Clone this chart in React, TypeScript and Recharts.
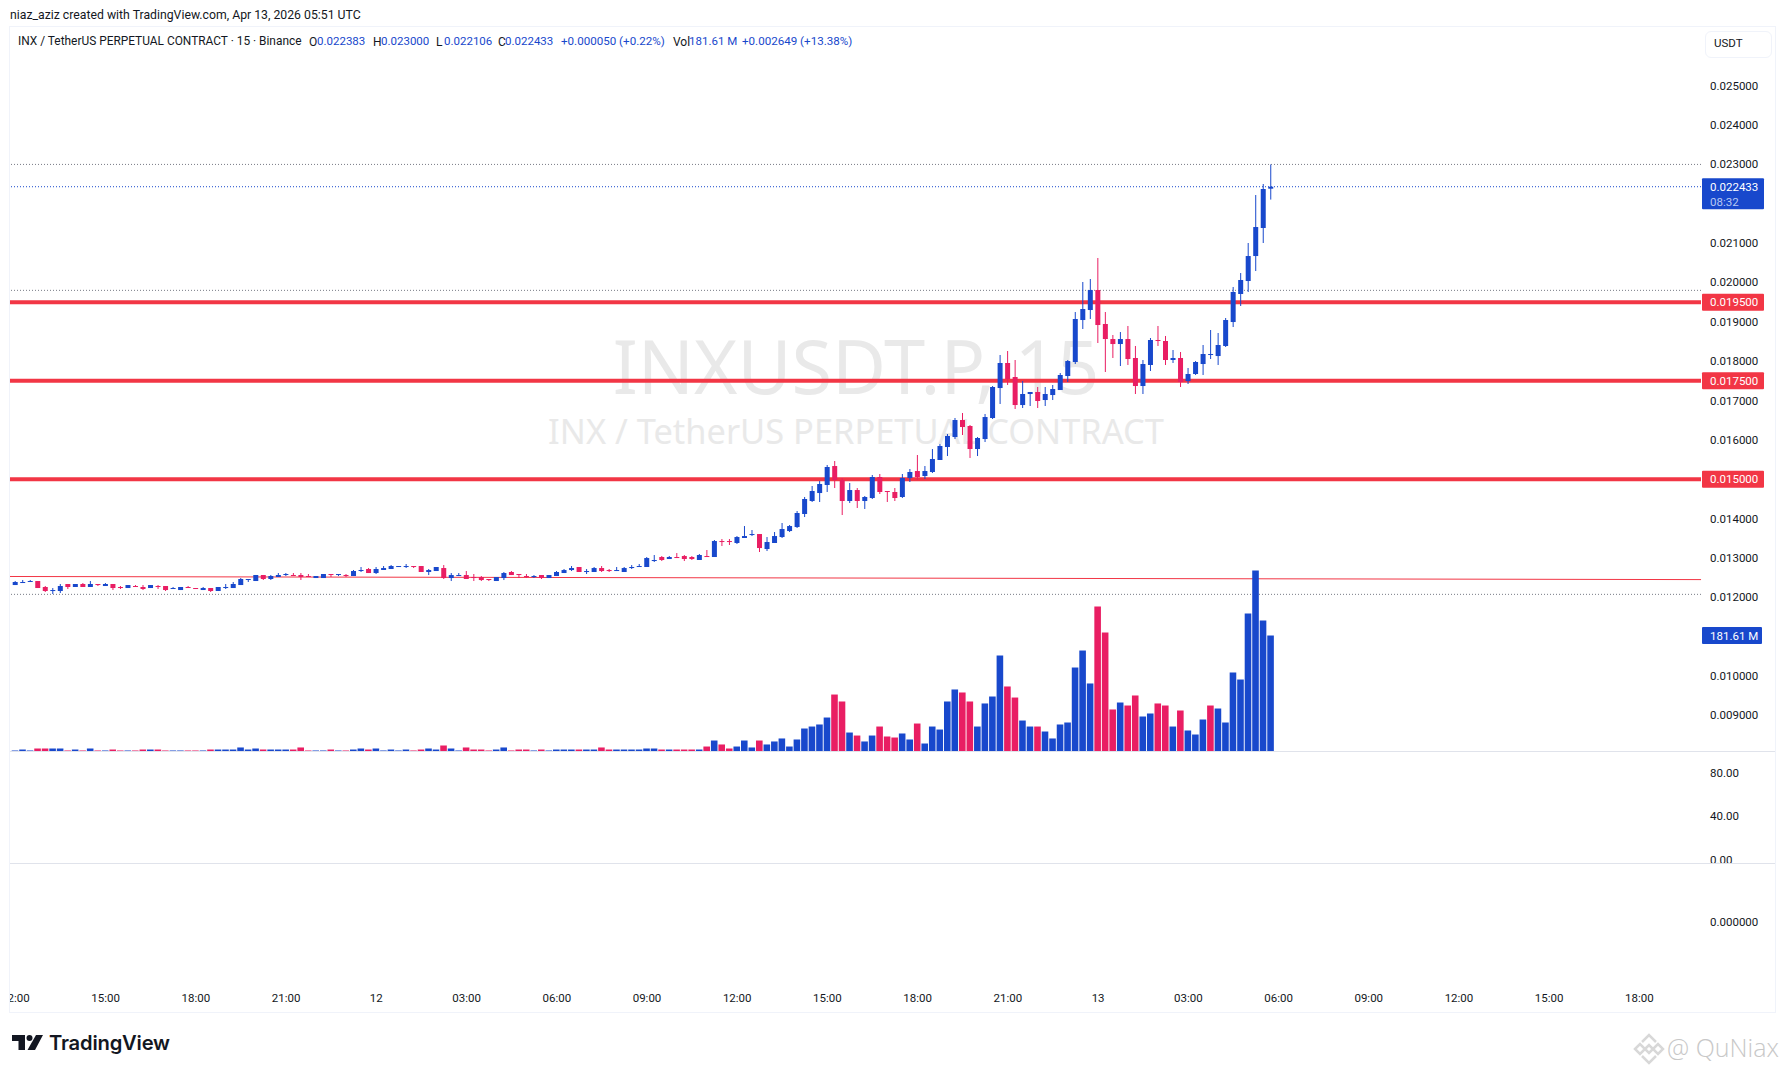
import { Bar, Cell, ComposedChart, ReferenceLine, XAxis, YAxis } from "recharts"

const UP = "#1848cc"
const DOWN = "#e91e63"
const LEVEL = "#f23645"
const TEXT = "#131722"
const FONT = "Roboto, sans-serif"

// 15 minute candles
const opens = [
  0.012312, 0.012363, 0.012389, 0.012414, 0.012262, 0.01216, 0.01216, 0.012338, 0.012262, 0.012338, 0.012262, 0.012338,
  0.012287, 0.012338, 0.012262, 0.012236, 0.012287, 0.012262, 0.012236, 0.012287, 0.012287, 0.012211, 0.012185, 0.012262,
  0.012236, 0.012185, 0.012236, 0.01216, 0.012236, 0.012236, 0.012312, 0.01244, 0.012414, 0.012567, 0.012465, 0.012516,
  0.012567, 0.012567, 0.012567, 0.012541, 0.01249, 0.01249, 0.012592, 0.012567, 0.012567, 0.012541, 0.012668, 0.012719,
  0.012617, 0.012694, 0.012719, 0.01277, 0.01277, 0.012795, 0.012795, 0.012643, 0.012668, 0.012744, 0.01249, 0.012541,
  0.012566, 0.012516, 0.012516, 0.012465, 0.012414, 0.01249, 0.012643, 0.012592, 0.012541, 0.012516, 0.012566, 0.01249,
  0.012541, 0.012617, 0.012693, 0.01277, 0.012643, 0.012643, 0.012744, 0.012693, 0.012668, 0.012643, 0.012744, 0.01277,
  0.01277, 0.012922, 0.013024, 0.012973, 0.013024, 0.013049, 0.013024, 0.012948, 0.013049, 0.013024, 0.01343, 0.01343,
  0.01338, 0.013507, 0.013583, 0.013608, 0.013227, 0.01338, 0.013532, 0.013684, 0.013786, 0.014117, 0.014447, 0.01465,
  0.014854, 0.015336, 0.014981, 0.014447, 0.014726, 0.014447, 0.014523, 0.015057, 0.014701, 0.014676, 0.014549, 0.015031,
  0.015209, 0.015082, 0.015184, 0.015489, 0.015819, 0.016073, 0.016505, 0.016353, 0.015768, 0.016022, 0.016556, 0.017318,
  0.017954, 0.017598, 0.016886, 0.017166, 0.017217, 0.017013, 0.01714, 0.017267, 0.017623, 0.017979, 0.019046, 0.0193,
  0.019808, 0.018945, 0.018563, 0.018436, 0.018563, 0.018081, 0.017369, 0.017903, 0.018538, 0.018513, 0.01803, 0.018081,
  0.017496, 0.017674, 0.017928, 0.018157, 0.018131, 0.018386, 0.018995, 0.019707, 0.020037, 0.020672, 0.021384, 0.022383,
]
const highs = [
  0.012414, 0.01244, 0.01244, 0.012414, 0.012287, 0.012236, 0.012338, 0.012338, 0.012338, 0.012363, 0.012414, 0.012338,
  0.012363, 0.012338, 0.012287, 0.012312, 0.012312, 0.012312, 0.012312, 0.012312, 0.012287, 0.012262, 0.012262, 0.012287,
  0.012236, 0.012262, 0.012236, 0.012262, 0.012338, 0.012389, 0.01249, 0.012465, 0.012567, 0.012567, 0.012567, 0.012617,
  0.012617, 0.012617, 0.012617, 0.012592, 0.012541, 0.012592, 0.012592, 0.012592, 0.012592, 0.012694, 0.01277, 0.012744,
  0.01277, 0.012795, 0.012821, 0.012795, 0.012846, 0.012795, 0.012795, 0.012719, 0.01277, 0.01282, 0.012617, 0.012617,
  0.012668, 0.012592, 0.012541, 0.012465, 0.012516, 0.012643, 0.012668, 0.012592, 0.012592, 0.012566, 0.012566, 0.012566,
  0.012668, 0.012719, 0.012795, 0.01277, 0.012719, 0.01277, 0.012795, 0.012719, 0.01277, 0.01277, 0.01282, 0.012846,
  0.013024, 0.013075, 0.013049, 0.013049, 0.013125, 0.013075, 0.013049, 0.0131, 0.013202, 0.013456, 0.013481, 0.013481,
  0.013557, 0.013811, 0.01371, 0.013608, 0.013532, 0.013659, 0.013888, 0.013837, 0.014193, 0.014549, 0.014828, 0.014955,
  0.015362, 0.015463, 0.015031, 0.014904, 0.014777, 0.014574, 0.015108, 0.015133, 0.014701, 0.014777, 0.015133, 0.01526,
  0.015616, 0.015336, 0.015768, 0.015895, 0.016149, 0.016556, 0.016683, 0.016378, 0.016073, 0.016658, 0.017369, 0.018157,
  0.018258, 0.01803, 0.017496, 0.017217, 0.017344, 0.017344, 0.017395, 0.017699, 0.01803, 0.019249, 0.020012, 0.020088,
  0.020622, 0.019249, 0.018665, 0.018741, 0.018894, 0.018386, 0.01803, 0.018589, 0.018894, 0.01864, 0.018284, 0.018233,
  0.017827, 0.018004, 0.018411, 0.018792, 0.018716, 0.019097, 0.019885, 0.02024, 0.021003, 0.022222, 0.022502, 0.023,
]
const lows = [
  0.012312, 0.012363, 0.012389, 0.012236, 0.012135, 0.012084, 0.012109, 0.012211, 0.012262, 0.012262, 0.012262, 0.012287,
  0.012287, 0.012185, 0.012211, 0.012236, 0.012262, 0.012185, 0.012236, 0.012211, 0.01216, 0.012211, 0.012185, 0.012236,
  0.012211, 0.012185, 0.012135, 0.01216, 0.012211, 0.012236, 0.012312, 0.012389, 0.012414, 0.01244, 0.01244, 0.012516,
  0.012541, 0.012541, 0.01244, 0.012516, 0.01249, 0.01249, 0.012516, 0.012541, 0.012516, 0.012541, 0.012643, 0.012617,
  0.012592, 0.012694, 0.012719, 0.01277, 0.012744, 0.012744, 0.012643, 0.012566, 0.012668, 0.012465, 0.012414, 0.012541,
  0.012465, 0.012414, 0.012414, 0.012414, 0.012414, 0.012439, 0.012566, 0.01249, 0.01249, 0.01249, 0.012465, 0.01249,
  0.012541, 0.012617, 0.012668, 0.012643, 0.012592, 0.012643, 0.012643, 0.012643, 0.012668, 0.012643, 0.012719, 0.01277,
  0.01277, 0.012897, 0.012922, 0.012973, 0.012998, 0.012922, 0.012948, 0.012948, 0.013024, 0.013024, 0.013303, 0.013329,
  0.013354, 0.013507, 0.013557, 0.013151, 0.013176, 0.01338, 0.013507, 0.013659, 0.013761, 0.01404, 0.014422, 0.014422,
  0.014676, 0.014777, 0.014091, 0.014396, 0.014269, 0.014244, 0.014498, 0.014625, 0.014422, 0.014447, 0.014523, 0.01493,
  0.014981, 0.015006, 0.015158, 0.015489, 0.01559, 0.016022, 0.016124, 0.01554, 0.01559, 0.015946, 0.016531, 0.016912,
  0.017395, 0.016785, 0.01681, 0.016861, 0.01681, 0.016861, 0.017013, 0.017267, 0.017471, 0.017928, 0.018818, 0.019072,
  0.018462, 0.017725, 0.018081, 0.017877, 0.017903, 0.017166, 0.017166, 0.01775, 0.018386, 0.017903, 0.017954, 0.017344,
  0.01742, 0.017649, 0.017649, 0.018055, 0.017903, 0.01836, 0.018868, 0.019402, 0.019758, 0.020291, 0.021003, 0.022106,
]
const closes = [
  0.012389, 0.012389, 0.012414, 0.012236, 0.01216, 0.012185, 0.012287, 0.012262, 0.012338, 0.012262, 0.012338, 0.012312,
  0.012338, 0.012236, 0.012236, 0.012312, 0.012262, 0.012211, 0.012312, 0.012262, 0.012185, 0.012236, 0.012262, 0.012236,
  0.012211, 0.012236, 0.01216, 0.012262, 0.012262, 0.012338, 0.012465, 0.012465, 0.012567, 0.012465, 0.012541, 0.012567,
  0.012592, 0.012541, 0.012516, 0.012516, 0.012541, 0.012592, 0.012567, 0.012592, 0.012541, 0.012668, 0.012694, 0.012617,
  0.012719, 0.012744, 0.012795, 0.012795, 0.012795, 0.01277, 0.012643, 0.012693, 0.01277, 0.01249, 0.012566, 0.012566,
  0.012465, 0.01249, 0.012439, 0.012439, 0.012516, 0.012617, 0.012566, 0.012566, 0.012516, 0.012541, 0.01249, 0.012566,
  0.012643, 0.012693, 0.012744, 0.012643, 0.012668, 0.012744, 0.012668, 0.012668, 0.012693, 0.012744, 0.01277, 0.012795,
  0.012998, 0.012948, 0.012948, 0.013024, 0.012998, 0.012973, 0.012973, 0.013075, 0.013024, 0.01343, 0.013405, 0.013405,
  0.013532, 0.013557, 0.013608, 0.013252, 0.013405, 0.013557, 0.013735, 0.013811, 0.014142, 0.014498, 0.014701, 0.014879,
  0.015311, 0.014981, 0.014447, 0.014726, 0.014447, 0.014549, 0.015057, 0.014676, 0.014676, 0.014523, 0.015031, 0.015184,
  0.015057, 0.015209, 0.015514, 0.015845, 0.016099, 0.016505, 0.016327, 0.015768, 0.016048, 0.016581, 0.017344, 0.017954,
  0.017547, 0.016886, 0.017166, 0.017217, 0.016988, 0.017166, 0.017293, 0.017649, 0.018004, 0.019072, 0.019326, 0.019808,
  0.018919, 0.018563, 0.018436, 0.018563, 0.018055, 0.017369, 0.017928, 0.018538, 0.018513, 0.01803, 0.018081, 0.017471,
  0.017674, 0.017979, 0.018182, 0.018182, 0.018411, 0.019046, 0.019758, 0.020063, 0.020672, 0.021409, 0.022375, 0.022433,
]
// millions
const volumes = [
  1.6, 3.1, 1.6, 4.7, 4.7, 4.7, 4.7, 1.6, 3.1, 1.6, 4.7, 1.6, 1.6, 3.1, 1.6, 1.6, 1.6, 3.1, 3.1, 3.1,
  1.6, 1.6, 1.6, 1.6, 1.6, 1.6, 3.1, 3.1, 3.1, 3.1, 6.3, 3.1, 4.7, 3.1, 3.1, 3.1, 3.1, 3.1, 6.3, 1.6,
  1.6, 1.6, 3.1, 1.6, 1.6, 3.1, 4.7, 3.1, 4.7, 1.6, 3.1, 1.6, 3.1, 1.6, 3.1, 4.7, 3.1, 9.4, 4.7, 1.6,
  6.3, 3.1, 3.1, 1.6, 3.1, 6.3, 1.6, 3.1, 3.1, 1.6, 3.1, 1.6, 3.1, 3.1, 3.1, 3.1, 3.1, 3.1, 6.3, 3.1,
  3.1, 3.1, 3.1, 3.1, 4.7, 4.7, 3.1, 3.1, 3.1, 3.1, 3.1, 3.1, 7.8, 17.2, 11, 4.7, 7.8, 17.2, 6.3, 17.2,
  11, 15.7, 20.4, 7.8, 18.8, 36, 39.1, 42.3, 53.2, 89.2, 78.3, 29.7, 25, 15.7, 25, 39.1, 23.5, 21.9, 28.2, 18.8,
  43.8, 12.5, 39.1, 34.4, 78.3, 97.1, 92.4, 78.3, 39.1, 75.2, 86.1, 150.3, 101.8, 84.5, 48.5, 39.1, 39.1, 31.3, 20.4, 42.3,
  45.4, 131.5, 158.1, 106.5, 227, 186.3, 65.8, 76.7, 72, 87.7, 54.8, 59.5, 75.2, 72, 39.1, 64.2, 32.9, 26.6, 50.1, 72,
  67.3, 45.4, 123.7, 112.7, 216.1, 283.4, 205.1, 181.61,
]
// the one doji whose volume bar is pink while the candle is blue
const pinkVolumeSlots = [159]

const timeLabels = ["12:00", "15:00", "18:00", "21:00", "12", "03:00", "06:00", "09:00", "12:00", "15:00", "18:00", "21:00", "13", "03:00", "06:00", "09:00", "12:00", "15:00", "18:00"]
const priceTicks = [0.025, 0.024, 0.023, 0.021, 0.02, 0.019, 0.018, 0.017, 0.016, 0.014, 0.013, 0.012, 0.01, 0.009]
const levels = [0.0195, 0.0175, 0.015]
const dottedLevels = [0.023, 0.0198, 0.012075]
const lastPrice = 0.022433
const lastVolume = 181.61
const oscTicks = [80, 40, 0]

const slotCount = 224
const rows = Array.from({ length: slotCount }, (_, slot) =>
  slot < opens.length
    ? { slot, open: opens[slot], high: highs[slot], low: lows[slot], close: closes[slot], volume: volumes[slot], flat: 0 }
    : { slot, flat: 0 },
)
const timeTicks = timeLabels.map((_, i) => i * 12)

const CHART_W = 1765
const AXIS_W = 74
const xPadding = { left: 1.7, right: 5.2 }

function Candle(props: any) {
  const { x, y, width, height, payload } = props
  if (payload.open === undefined) return null
  const top = Math.min(y, y + height)
  const perUnit = Math.abs(height) / (payload.high - payload.low)
  const at = (p: number) => top + (payload.high - p) * perUnit
  const color = payload.close >= payload.open ? UP : DOWN
  const bodyTop = at(Math.max(payload.open, payload.close))
  const bodyBottom = at(Math.min(payload.open, payload.close))
  const mid = x + width / 2
  return (
    <g>
      <line x1={mid} x2={mid} y1={top} y2={top + Math.abs(height)} stroke={color} strokeWidth={1} />
      <rect x={x} y={bodyTop} width={width} height={Math.max(bodyBottom - bodyTop, 1)} fill={color} />
    </g>
  )
}

function Tag({ x, y, w, fill, label, sub }: any) {
  return (
    <g>
      <rect x={x + 1} y={y - 8.5} width={w} height={sub ? 31 : 17} rx={1} fill={fill} />
      <text x={x + 9} y={y + 4} fontSize={11.5} fontFamily={FONT} fill="#fff">{label}</text>
      {sub && <text x={x + 9} y={y + 19} fontSize={11.5} fontFamily={FONT} fill="#b9c8f2">{sub}</text>}
    </g>
  )
}

function PriceTick({ x, y, payload }: any) {
  const value = payload.value
  if (levels.includes(value)) return <Tag x={x} y={y} w={62} fill={LEVEL} label={value.toFixed(6)} />
  if (value === lastPrice) return <Tag x={x} y={y} w={62} fill={UP} label={value.toFixed(6)} sub="08:32" />
  return <text x={x + 9} y={y + 4} fontSize={11.5} fontFamily={FONT} fill={TEXT}>{value.toFixed(6)}</text>
}

function VolumeTick({ x, y, payload }: any) {
  return <Tag x={x} y={y} w={60} fill={UP} label={`${payload.value} M`} />
}

function PlainTick({ x, y, payload, digits }: any) {
  return <text x={x + 9} y={y + 4} fontSize={11.5} fontFamily={FONT} fill={TEXT}>{Number(payload.value).toFixed(digits)}</text>
}

// the drawn trend line runs past the first and last slots, up to both pane edges
function TrendLine({ x1, y1, x2, y2 }: any) {
  return <line x1={x1 - 6} y1={y1} x2={x2 + 9} y2={y2} stroke={LEVEL} strokeWidth={1} />
}

function Txt({ x, y, size = 12, color = TEXT, children, style }: any) {
  return (
    <span style={{ position: "absolute", left: x, top: y, fontSize: size, color, fontFamily: FONT, lineHeight: 1, whiteSpace: "nowrap", ...style }}>
      {children}
    </span>
  )
}

export default function App() {
  return (
    <div style={{ position: "absolute", left: 0, top: 0, width: 1785, height: 1073, background: "#fff", overflow: "hidden" }}>
      <Txt x={10} y={9} size={12.25}>niaz_aziz created with TradingView.com, Apr 13, 2026 05:51 UTC</Txt>

      {/* frame */}
      <div style={{ position: "absolute", left: 9, top: 26, width: 1765, height: 985, border: "1px solid #f0f3fa" }} />

      {/* watermark sits under the candles */}
      <Txt x={856} y={329} size={74} color="#e9e9e9" style={{ transform: "translateX(-50%)", fontFamily: "'Noto Sans', sans-serif" }}>INXUSDT.P, 15</Txt>
      <Txt x={856} y={414} size={34.4} color="#e9e9e9" style={{ transform: "translateX(-50%)", fontFamily: "'Noto Sans', sans-serif" }}>INX / TetherUS PERPETUAL CONTRACT</Txt>

      {/* price pane */}
      <div style={{ position: "absolute", left: 10, top: 26 }}>
        <ComposedChart width={CHART_W} height={725.5} data={rows} margin={{ top: 0, right: 0, bottom: 0, left: 0 }}>
          <XAxis dataKey="slot" hide padding={xPadding} />
          <YAxis
            orientation="right"
            width={AXIS_W}
            domain={[0.008082, 0.026517]}
            allowDataOverflow
            ticks={[...priceTicks, ...levels, lastPrice]}
            interval={0}
            axisLine={false}
            tickLine={false}
            tickSize={0}
            tickMargin={0}
            tick={<PriceTick />}
          />
          {dottedLevels.map((p) => (
            <ReferenceLine key={p} y={p} stroke="#787b86" strokeWidth={1} strokeDasharray="1 2" zIndex={100} />
          ))}
          <ReferenceLine y={lastPrice} stroke={UP} strokeWidth={1} strokeDasharray="1 2" zIndex={100} />
          {levels.map((p) => (
            <ReferenceLine key={p} y={p} stroke={LEVEL} strokeWidth={4} zIndex={100} />
          ))}
          <ReferenceLine
            segment={[{ x: 0, y: 0.012529 }, { x: slotCount - 1, y: 0.01245 }]}
            shape={<TrendLine />}
            zIndex={100}
          />
          <Bar
            dataKey={(d: any) => (d.open === undefined ? null : [d.low, d.high])}
            barSize={5}
            shape={<Candle />}
            isAnimationActive={false}
            zIndex={300}
          />
        </ComposedChart>
      </div>

      {/* volume overlay */}
      <div style={{ position: "absolute", left: 10, top: 26 }}>
        <ComposedChart width={CHART_W} height={725.5} data={rows} margin={{ top: 0, right: 0, bottom: 0, left: 0 }}>
          <XAxis dataKey="slot" hide padding={xPadding} />
          <YAxis
            orientation="right"
            width={AXIS_W}
            domain={[0, 1135.9]}
            ticks={[lastVolume]}
            interval={0}
            axisLine={false}
            tickLine={false}
            tickSize={0}
            tickMargin={0}
            tick={<VolumeTick />}
          />
          <Bar dataKey="volume" barSize={6.6} isAnimationActive={false}>
            {rows.map((r: any) => (
              <Cell key={r.slot} fill={r.close >= r.open && !pinkVolumeSlots.includes(r.slot) ? UP : DOWN} />
            ))}
          </Bar>
        </ComposedChart>
      </div>

      <div style={{ position: "absolute", left: 10, top: 751, width: 1765, height: 1, background: "#e0e3eb" }} />

      {/* empty oscillator pane */}
      <div style={{ position: "absolute", left: 10, top: 752 }}>
        <ComposedChart width={CHART_W} height={111} data={rows} margin={{ top: 0, right: 0, bottom: 0, left: 0 }}>
          <XAxis dataKey="slot" hide padding={xPadding} />
          <YAxis
            orientation="right"
            width={AXIS_W}
            domain={[-3.2, 99.3]}
            ticks={oscTicks}
            interval={0}
            axisLine={false}
            tickLine={false}
            tickSize={0}
            tickMargin={0}
            tick={<PlainTick digits={2} />}
          />
          <Bar dataKey="flat" isAnimationActive={false} />
        </ComposedChart>
      </div>

      <div style={{ position: "absolute", left: 10, top: 863, width: 1765, height: 1, background: "#e0e3eb" }} />

      {/* last pane with the time axis */}
      <div style={{ position: "absolute", left: 10, top: 864 }}>
        <ComposedChart width={CHART_W} height={147} data={rows} margin={{ top: 0, right: 0, bottom: 0, left: 0 }}>
          <XAxis
            dataKey="slot"
            ticks={timeTicks}
            interval={0}
            height={32}
            padding={xPadding}
            axisLine={false}
            tickLine={false}
            tickSize={0}
            tickMargin={15}
            tick={{ fontSize: 11.5, fontFamily: FONT, fill: TEXT }}
            tickFormatter={(v: number) => timeLabels[v / 12]}
          />
          <YAxis
            orientation="right"
            width={AXIS_W}
            domain={[-1, 1]}
            ticks={[0]}
            interval={0}
            axisLine={false}
            tickLine={false}
            tickSize={0}
            tickMargin={0}
            tick={<PlainTick digits={6} />}
          />
          <Bar dataKey="flat" isAnimationActive={false} />
        </ComposedChart>
      </div>

      {/* legend line */}
      <Txt x={18} y={36} size={11.9}>INX / TetherUS PERPETUAL CONTRACT · 15 · Binance</Txt>
      <Txt x={309} y={36}>O</Txt>
      <Txt x={317} y={36} size={11.5} color={UP}>0.022383</Txt>
      <Txt x={373} y={36}>H</Txt>
      <Txt x={381} y={36} size={11.5} color={UP}>0.023000</Txt>
      <Txt x={436} y={36}>L</Txt>
      <Txt x={444} y={36} size={11.5} color={UP}>0.022106</Txt>
      <Txt x={498} y={36}>C</Txt>
      <Txt x={505} y={36} size={11.5} color={UP}>0.022433</Txt>
      <Txt x={561} y={36} size={11.6} color={UP}>+0.000050 (+0.22%)</Txt>
      <Txt x={673} y={36}>Vol</Txt>
      <Txt x={689} y={36} size={11.5} color={UP}>181.61 M</Txt>
      <Txt x={742} y={36} size={11.6} color={UP}>+0.002649 (+13.38%)</Txt>

      {/* currency button */}
      <div style={{ position: "absolute", left: 1705, top: 31, width: 65, height: 25, border: "1px solid #f0f3fa", borderRadius: 6 }} />
      <Txt x={1714} y={38} size={11.5}>USDT</Txt>

      {/* logo */}
      <svg style={{ position: "absolute", left: 12, top: 1035 }} width={32} height={16}>
        <path d="M0 0H13V15H6.5V6H0Z" fill={TEXT} />
        <circle cx={17.5} cy={3} r={3} fill={TEXT} />
        <path d="M24 0H31L23 15H15.5Z" fill={TEXT} />
      </svg>
      <Txt x={49} y={1033} size={20.2} style={{ fontFamily: "Inter, sans-serif", fontWeight: 600, letterSpacing: -0.2 }}>TradingView</Txt>

      {/* repost mark */}
      <svg style={{ position: "absolute", left: 1632, top: 1031 }} width={34} height={34}>
        <g fill="none" stroke="#d8d8d8" strokeWidth={2.5}>
          <path d="M10 11L17 4L24 11" />
          <path d="M3 18L8 13L13 18L8 23Z" />
          <path d="M21 18L26 13L31 18L26 23Z" />
          <path d="M13 18L17 14L21 18L17 22Z" />
          <path d="M10 25L17 32L24 25" />
        </g>
      </svg>
      <Txt x={1667} y={1035} size={25} color="#c8c8c8" style={{ fontFamily: "'Open Sans', sans-serif", fontWeight: 300 }}>@ QuNiax</Txt>
    </div>
  )
}
